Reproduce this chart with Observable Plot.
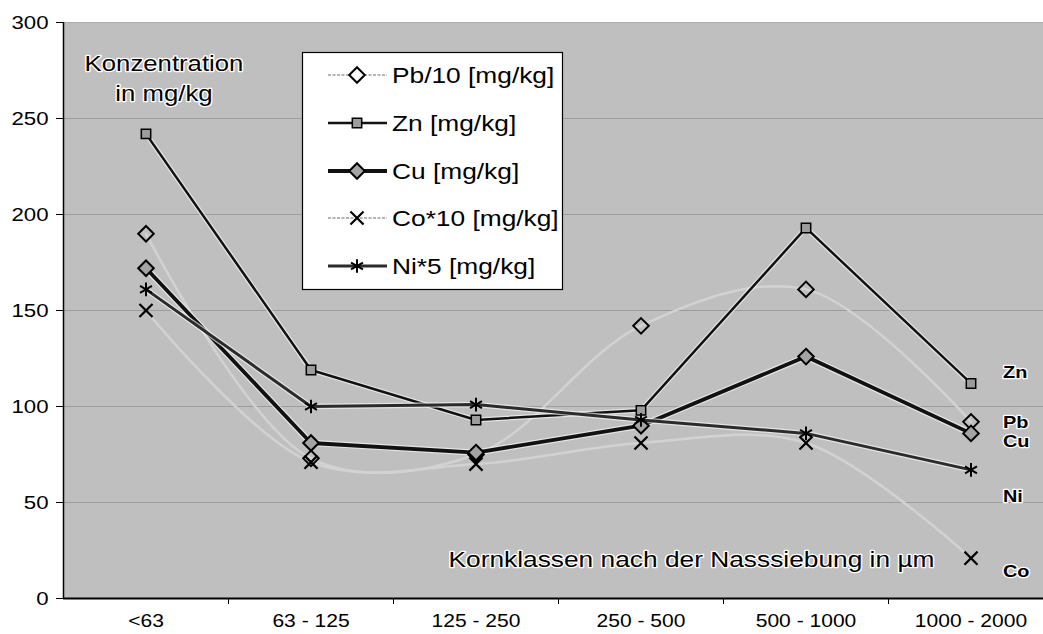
<!DOCTYPE html>
<html><head><meta charset="utf-8">
<script src="https://cdn.jsdelivr.net/npm/d3@7"></script>
<script src="https://cdn.jsdelivr.net/npm/@observablehq/plot@0.6"></script>
<style>body{margin:0;background:#fff;font-family:"Liberation Sans",Arial,sans-serif}</style>
</head><body><div id="chart"></div>
<script>
const categories = ["<63", "63 - 125", "125 - 250", "250 - 500", "500 - 1000", "1000 - 2000"];
const pb10 = [190, 73, 75, 142, 161, 92];
const zn   = [242, 119, 93, 98, 193, 112];
const cu   = [172, 81, 76, 90, 126, 86];
const co10 = [150, 71, 70, 81, 81, 21];
const ni5  = [161, 100, 101, 93, 86, 67];
const yTicks = [0, 50, 100, 150, 200, 250, 300];
const seriesNames = ["Pb/10 [mg/kg]", "Zn [mg/kg]", "Cu [mg/kg]", "Co*10 [mg/kg]", "Ni*5 [mg/kg]"];

const FAINT = "#d2d2d2";
const styles = {
  "Pb/10 [mg/kg]": {values: pb10, line: FAINT, lw: 2.5, curve: "catmull-rom", symbol: "diamond2", fill: "none", r: 7, sw: 2},
  "Zn [mg/kg]":    {values: zn,   line: "#111", lw: 2.5, curve: "linear", symbol: "square", fill: "#9c9c9c", r: 5.3, sw: 1.5},
  "Cu [mg/kg]":    {values: cu,   line: "#111", lw: 3.8, curve: "linear", symbol: "diamond2", fill: "#a4a4a4", r: 7, sw: 2},
  "Co*10 [mg/kg]": {values: co10, line: FAINT, lw: 2.5, curve: "catmull-rom", symbol: "times", fill: "none", r: 6, sw: 2.2},
  "Ni*5 [mg/kg]":  {values: ni5,  line: "#2b2b2b", lw: 3, curve: "linear", symbol: "asterisk", fill: "none", r: 6.5, sw: 2}
};

const rows = s => categories.map((c, i) => ({cat: c, i: i + 0.5, v: styles[s].values[i]}));

const marks = [
  Plot.frame({fill: "#bfbfbf", stroke: null}),
  Plot.gridY(yTicks, {stroke: "#7a7a7a", strokeOpacity: 0.5, strokeWidth: 1})
];
for (const s of seriesNames) {
  const st = styles[s];
  if (st.line === FAINT) {
    marks.push(Plot.line(rows(s), {x: "i", y: "v", stroke: st.line, strokeWidth: st.lw, curve: st.curve}));
  } else {
    marks.push(Plot.line(rows(s), {x: "i", y: "v", stroke: "#f4f4f4", strokeOpacity: 0.7, strokeWidth: st.lw + 2.5, curve: st.curve}));
    marks.push(Plot.line(rows(s), {x: "i", y: "v", stroke: st.line, strokeWidth: st.lw, curve: st.curve}));
  }
}
for (const s of seriesNames) {
  const st = styles[s];
  marks.push(Plot.dot(rows(s), {x: "i", y: "v", symbol: () => st.symbol, r: st.r, fill: st.fill, stroke: "#000", strokeWidth: st.sw}));
}
marks.push(
  Plot.ruleY([0], {stroke: "#000", strokeWidth: 2}),
  Plot.ruleX([0], {stroke: "#000", strokeWidth: 1.5}),
  Plot.axisY({ticks: yTicks, tickSize: 7, tickPadding: 8, fontSize: 19, label: null, stroke: "#000"}),
  Plot.axisX({ticks: categories.map((d, i) => i + 0.5), tickFormat: t => categories[Math.floor(t)], tickSize: 0, tickPadding: 16, fontSize: 18, label: null}),
  Plot.axisX({ticks: [1, 2, 3, 4, 5], tickFormat: () => "", tickSize: 6, label: null, stroke: "#000"}),
  Plot.text([{x: 0.5, y: 272}], {x: "x", y: "y", dx: 18, text: () => "Konzentration\nin mg/kg", fontSize: 22, lineHeight: 1.36, fill: "#000", stroke: "#fff", strokeWidth: 2.5}),
  Plot.text([{x: 3.806, y: 20}], {x: "x", y: "y", text: () => "Kornklassen nach der Nasssiebung in µm", fontSize: 22.5, fill: "#000", stroke: "#fff", strokeWidth: 2.5}),
  Plot.text([
    {n: "Zn", y: 117.5}, {n: "Pb", y: 91.5}, {n: "Cu", y: 81.5}, {n: "Ni", y: 53}, {n: "Co", y: 14}
  ], {x: () => 5.5, y: "y", dx: 32, text: "n", textAnchor: "start", fontSize: 17, fontWeight: "bold", fill: "#000", stroke: "#fff", strokeWidth: 2.5})
);

const chart = Plot.plot({
  width: 1043,
  height: 634,
  marginTop: 22,
  marginBottom: 36,
  marginLeft: 63,
  marginRight: 0,
  style: {fontFamily: "'Liberation Sans', Arial, sans-serif", fontSize: "18px", color: "#000", background: "#fff"},
  x: {type: "linear", domain: [0, 6], range: [63, 1053]},
  y: {domain: [0, 300], range: [598, 22]},
  marks
});
document.getElementById("chart").appendChild(chart);

const STRETCH = 1.17;
const svg = d3.select(chart);
// the reference lettering is horizontally widened
svg.selectAll("text").each(function () {
  const t = this.getAttribute("transform");
  if (t && !t.includes("scale")) this.setAttribute("transform", t + ` scale(${STRETCH},1)`);
});

// legend box (inside plot)
const lg = svg.append("g").attr("class", "legend");
lg.append("rect").attr("x", 302.5).attr("y", 52.5).attr("width", 260).attr("height", 237)
  .attr("fill", "#fff").attr("stroke", "#000").attr("stroke-width", 1.2);
const legendY = [75, 123, 171, 218, 266];
const symMap = {diamond2: d3.symbolDiamond2, square: d3.symbolSquare, times: d3.symbolTimes, asterisk: d3.symbolAsterisk};
seriesNames.forEach((s, k) => {
  const st = styles[s];
  const y = legendY[k];
  lg.append("line").attr("x1", 328).attr("x2", 387).attr("y1", y).attr("y2", y)
    .attr("stroke", st.line === FAINT ? "#b4b4b4" : st.line).attr("stroke-width", st.line === FAINT ? 2 : st.lw)
    .attr("stroke-dasharray", st.line === FAINT ? "3,1.5" : null);
  lg.append("path").attr("d", d3.symbol(symMap[st.symbol], Math.PI * st.r * st.r)())
    .attr("transform", `translate(357,${y})`)
    .attr("fill", st.fill === "none" ? "#fff" : st.fill).attr("stroke", "#000").attr("stroke-width", st.sw);
  lg.append("text").attr("transform", `translate(392,${y}) scale(${STRETCH},1)`).attr("dy", "0.36em")
    .attr("text-anchor", "start").attr("font-size", 22.5).attr("fill", "#000").text(s);
});
</script></body></html>
